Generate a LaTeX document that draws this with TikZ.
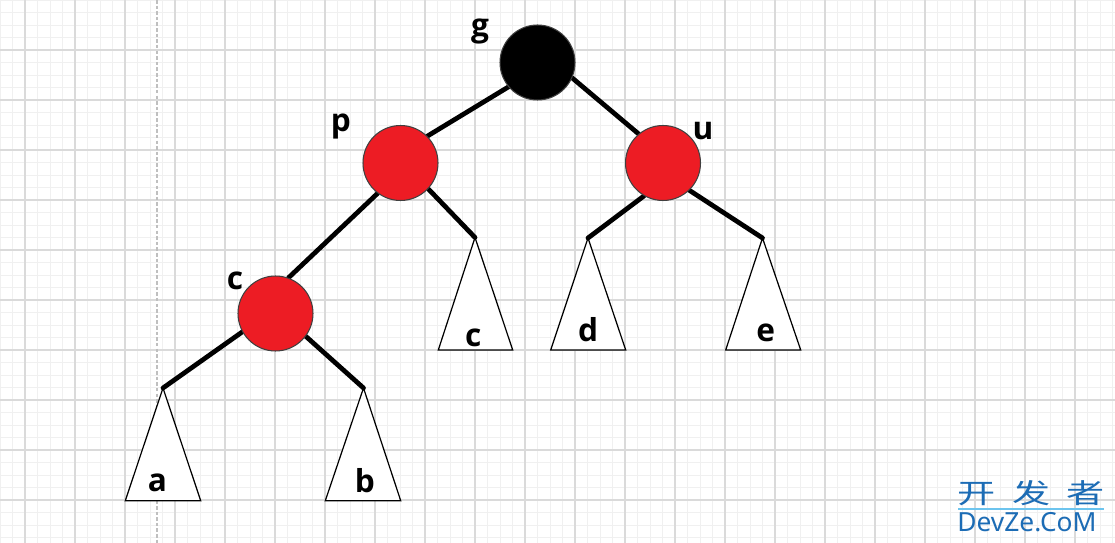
\documentclass[tikz,border=0pt]{standalone}
\usepackage{fontspec}
\setmainfont{Open Sans}
\newfontfamily\cjkfont{Noto Sans CJK SC}
\newfontfamily\wmfont{Noto Sans}
\definecolor{treered}{HTML}{ED1C24}
\definecolor{gridmajor}{HTML}{DADADA}
\definecolor{gridminor}{HTML}{F0F0F0}
\definecolor{wmblue}{HTML}{1C6CB5}
\definecolor{wmline}{HTML}{6CC4EE}
\pgfdeclarelayer{bgrid}
\pgfdeclarelayer{edges}
\pgfsetlayers{bgrid,edges,main}
\begin{document}
\begin{tikzpicture}[x=0.02cm,y=-0.02cm,
  rb/.style={circle,draw=black!75,line width=0.6pt,minimum size=1.5cm,inner sep=0pt},
  rednode/.style={rb,fill=treered},
  blacknode/.style={rb,fill=black},
  edge/.style={line width=2.7pt,line cap=round},
  tri/.style={draw=black,line width=0.7pt,fill=white},
  lbl/.style={font=\fontsize{18}{20}\selectfont\bfseries,anchor=base,inner sep=0pt},
  minorline/.style={draw=gridminor,line width=0.5pt},
  majorline/.style={draw=gridmajor,line width=0.6pt},
  dashline/.style={draw=black!25,line width=0.6pt,dash pattern=on 2pt off 1.2pt},
]
\useasboundingbox (0,0) rectangle (1115,543);
\begin{pgfonlayer}{bgrid}
  \fill[white] (0,0) rectangle (1115,543);
  \foreach \k in {0,...,89} {\draw[minorline] (12.5*\k,0) -- (12.5*\k,543);}
  \foreach \k in {0,...,43} {\draw[minorline] (0,12.5*\k) -- (1115,12.5*\k);}
  \foreach \k in {0,...,21} {\draw[majorline] (25+50*\k,0) -- (25+50*\k,543);}
  \foreach \k in {1,...,10} {\draw[majorline] (0,50*\k) -- (1115,50*\k);}
  \coordinate (dtop) at (157,0);
  \coordinate (dbot) at (157,543);
  \draw[dashline] (dtop) -- (dbot);
  % subtrees
  \coordinate (ta) at (163,388);
  \coordinate (tb) at (363.5,388);
  \coordinate (tc) at (475,237.5);
  \coordinate (td) at (588,238);
  \coordinate (te) at (762.5,238);
  \draw[tri] (ta) -- (125.3,500.7) -- (200.7,500.7) -- cycle;
  \draw[tri] (tb) -- (325.3,500.7) -- (400.7,500.7) -- cycle;
  \draw[tri] (tc) -- (438.3,350) -- (512.7,350) -- cycle;
  \draw[tri] (td) -- (550.7,350) -- (625.7,350) -- cycle;
  \draw[tri] (te) -- (725.7,350) -- (800.7,350) -- cycle;
\end{pgfonlayer}

\node[blacknode] (g) at (537.5,62.5) {};
\node[rednode] (p) at (400.5,163) {};
\node[rednode] (u) at (663,163) {};
\node[rednode] (c) at (275.5,313.5) {};

\begin{pgfonlayer}{edges}
  \draw[edge] (g.220) -- (p.45);
  \draw[edge] (g.336) -- (u.130);
  \draw[edge] (p.233) -- (c.70);
  \draw[edge] (p.317) -- (tc);
  \draw[edge] (u.240) -- (td);
  \draw[edge] (u.314) -- (te);
  \draw[edge] (c.209) -- (ta);
  \draw[edge] (c.323) -- (tb);
\end{pgfonlayer}

\node[lbl] (lg) at (480,37) {g};
\node[lbl] (lp) at (341,132) {p};
\node[lbl] (lu) at (703,140) {u};
\node[lbl] (lc) at (235,290) {c};
\node[lbl] (la) at (157.3,491.7) {a};
\node[lbl] (lb) at (365,492.7) {b};
\node[lbl] (ltc) at (473.3,347) {c};
\node[lbl] (ld) at (588,341.7) {d};
\node[lbl] (le) at (765.7,341.7) {e};

% watermark
\node[anchor=base,inner sep=0pt,text=wmblue,xscale=1.4,font=\cjkfont\fontsize{15.5}{16}\selectfont] (wm1) at (1031.5,503) {开\hspace{0.43em}发\hspace{0.43em}者};
\coordinate (wl1) at (958,509);
\coordinate (wl2) at (1104,509);
\draw[wmline,line width=0.6pt] (wl1) -- (wl2);
\node[anchor=base west,inner sep=0pt,text=wmblue,font=\wmfont\fontsize{15}{16}\selectfont] (wm2) at (957,531) {DevZe.CoM};
\end{tikzpicture}
\end{document}
